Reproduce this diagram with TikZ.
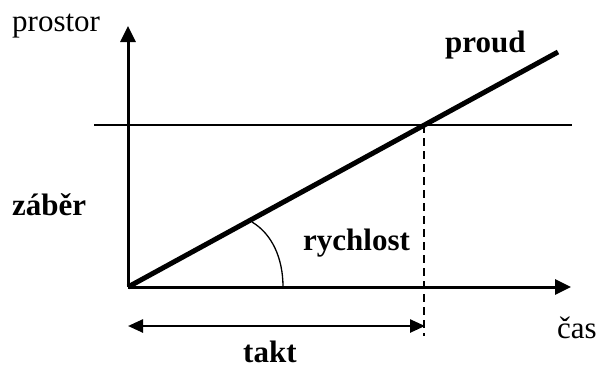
\documentclass[tikz,border=0pt]{standalone}
\usepackage{fontspec}
\setmainfont{Liberation Serif}
\usetikzlibrary{arrows.meta}

\begin{document}
\begin{tikzpicture}[x=1pt, y=-1pt,
    axis/.style={line width=3pt, -{Triangle[length=16pt,width=15pt]}},
    label/.style={inner sep=0pt, anchor=base west, font=\fontsize{31}{37}\selectfont},
    blabel/.style={label, font=\fontsize{31}{37}\selectfont\bfseries}]
    \useasboundingbox (0,0) rectangle (599,367);

    \coordinate (O) at (128,287);
    \coordinate (Y) at (128,26);
    \coordinate (X) at (571,287);
    \coordinate (P) at (558,52);
    \coordinate (L) at (94,125);
    \coordinate (R) at (572,125);
    \coordinate (C) at (424,125);
    \coordinate (D) at (424,336);
    \coordinate (T1) at (128,326);
    \coordinate (T2) at (425,326);
    \coordinate (A1) at (252,222);
    \coordinate (A2) at (283,287);

    \node[label] (prostor) at (12,31) {prostor};
    \node[blabel] (proud) at (445,52) {proud};
    \node[blabel] (zaber) at (12,215) {záběr};
    \node[blabel] (rychlost) at (303,250) {rychlost};
    \node[blabel] (takt) at (243,362) {takt};
    \node[label] (cas) at (557,338) {čas};

    \draw[line width=1.5pt] (L) -- (R);
    \draw[axis] (O) -- (Y);
    \draw[axis] (O) -- (X);
    \draw[line width=5pt] (O) -- (P);
    \draw[line width=1.2pt, dash pattern=on 8pt off 5pt] (C) -- (D);
    \draw[line width=2.5pt, {Triangle[length=15pt,width=13pt]}-{Triangle[length=15pt,width=13pt]}] (T1) -- (T2);
    \draw[line width=1.3pt] (A1) .. controls (272,234) and (283,258) .. (A2);
\end{tikzpicture}
\end{document}
